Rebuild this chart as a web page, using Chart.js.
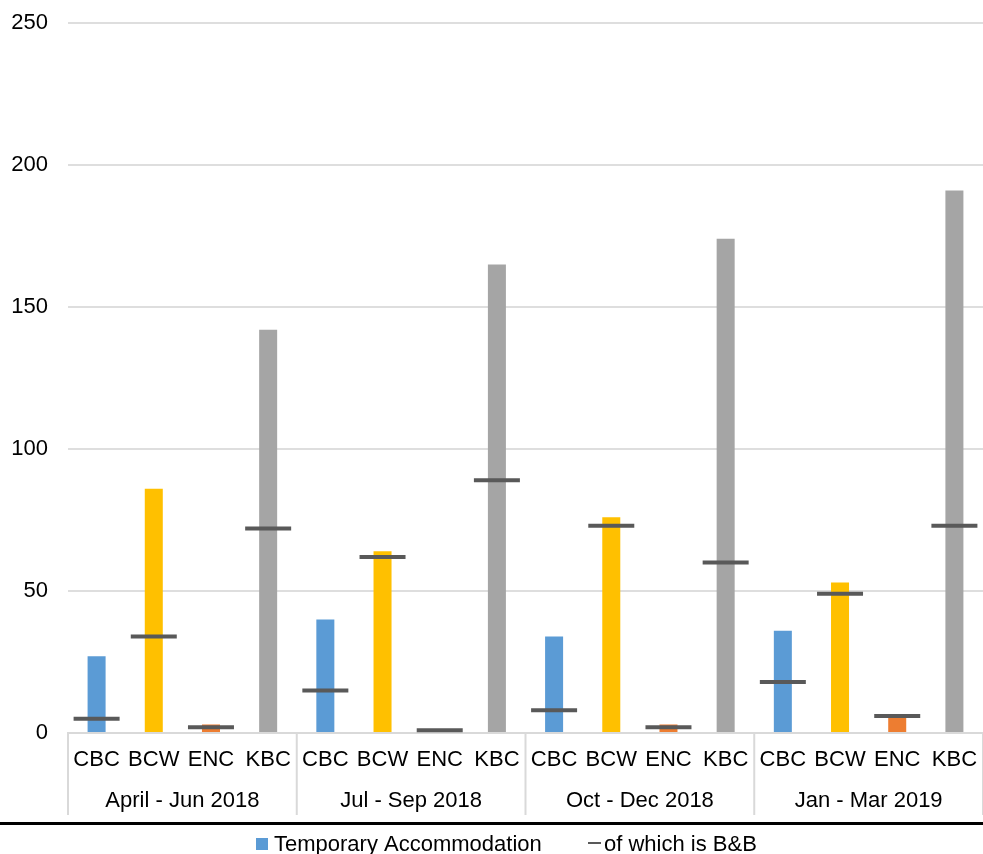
<!DOCTYPE html>
<html>
<head>
<meta charset="utf-8">
<script src="https://cdn.jsdelivr.net/npm/chart.js@4/dist/chart.umd.min.js"></script>
<style>
  html, body { margin: 0; padding: 0; background: #ffffff; }
  #wrap { width: 983px; height: 854px; position: relative; }
</style>
</head>
<body>
<div id="wrap"><canvas id="c" width="983" height="854"></canvas></div>
<script>
// ---- data ----
const councils = ['CBC', 'BCW', 'ENC', 'KBC'];
const quarters = ['April - Jun 2018', 'Jul - Sep 2018', 'Oct - Dec 2018', 'Jan - Mar 2019'];
const tempAccommodation = [27, 86, 3, 142, 40, 64, 1, 165, 34, 76, 3, 174, 36, 53, 6, 191];
const bedAndBreakfast = [5, 34, 2, 72, 15, 62, 1, 89, 8, 73, 2, 60, 18, 49, 6, 73];
const yTicks = [0, 50, 100, 150, 200, 250];
const seriesNames = ['Temporary Accommodation', 'of which is B&B'];

// ---- styles ----
const councilColors = ['#5B9BD5', '#FFC000', '#ED7D31', '#A5A5A5'];
const FONT = 'Arial, "Liberation Sans", sans-serif';

const labels = [];
quarters.forEach(() => councils.forEach(c => labels.push(c)));
const barColors = labels.map((_, i) => councilColors[i % councils.length]);

const groupPlugin = {
  id: 'groupPlugin',
  afterDraw(chart) {
    const ctx = chart.ctx;
    const x = chart.scales.x;
    const area = chart.chartArea;
    const half = (x.getPixelForValue(1) - x.getPixelForValue(0)) / 2;
    ctx.save();
    // dividers
    ctx.strokeStyle = '#d9d9d9';
    ctx.lineWidth = 2;
    for (let g = 0; g <= quarters.length; g++) {
      const bx = g < quarters.length
        ? x.getPixelForValue(g * councils.length) - half
        : x.getPixelForValue(g * councils.length - 1) + half;
      ctx.beginPath();
      ctx.moveTo(bx, area.bottom);
      ctx.lineTo(bx, 815);
      ctx.stroke();
    }
    // group labels
    ctx.fillStyle = '#000000';
    ctx.font = '22px ' + FONT;
    ctx.textAlign = 'center';
    ctx.textBaseline = 'middle';
    quarters.forEach((q, g) => {
      const a = x.getPixelForValue(g * councils.length);
      const b = x.getPixelForValue(g * councils.length + councils.length - 1);
      ctx.fillText(q, (a + b) / 2, 801);
    });
    // black separator
    ctx.strokeStyle = '#000000';
    ctx.lineWidth = 3;
    ctx.beginPath();
    ctx.moveTo(0, 823.5);
    ctx.lineTo(chart.width, 823.5);
    ctx.stroke();
    // legend
    ctx.textAlign = 'left';
    ctx.textBaseline = 'alphabetic';
    ctx.fillStyle = councilColors[0];
    ctx.fillRect(256, 838, 12, 12);
    ctx.fillStyle = '#000000';
    ctx.fillText(seriesNames[0], 274, 851);
    ctx.strokeStyle = '#595959';
    ctx.lineWidth = 2;
    ctx.beginPath();
    ctx.moveTo(588, 843);
    ctx.lineTo(601, 843);
    ctx.stroke();
    ctx.fillText(seriesNames[1], 604, 851);
    ctx.restore();
  }
};

new Chart(document.getElementById('c'), {
  type: 'bar',
  data: {
    labels: labels,
    datasets: [
      {
        type: 'bar',
        label: seriesNames[0],
        data: tempAccommodation,
        backgroundColor: barColors,
        borderWidth: 0,
        barPercentage: 0.63,
        categoryPercentage: 0.5,
        grouped: false,
        order: 1
      },
      {
        type: 'line',
        label: seriesNames[1],
        data: bedAndBreakfast,
        showLine: false,
        pointStyle: 'line',
        pointRadius: 23,
        pointHoverRadius: 23,
        pointBorderWidth: 4,
        pointBorderColor: '#595959',
        pointBackgroundColor: '#595959',
        borderColor: '#595959',
        clip: false,
        order: 0
      }
    ]
  },
  options: {
    responsive: false,
    animation: false,
    devicePixelRatio: 1,
    layout: { autoPadding: false, padding: { top: 23, right: 0, bottom: 0, left: 0 } },
    plugins: {
      legend: { display: false },
      tooltip: { enabled: false }
    },
    scales: {
      x: {
        offset: true,
        grid: { display: false, drawTicks: false },
        border: { display: true, color: '#d9d9d9', width: 2 },
        ticks: {
          color: '#000000',
          font: { family: FONT, size: 22 },
          padding: 14,
          maxRotation: 0,
          autoSkip: false
        },
        afterFit(scale) {
          scale.height = 121;
          scale.paddingLeft = 0;
          scale.paddingRight = 0;
        }
      },
      y: {
        min: 0,
        max: 250,
        afterBuildTicks(scale) { scale.ticks = yTicks.map(v => ({ value: v })); },
        grid: { color: '#dedede', lineWidth: 2, drawTicks: false },
        border: { display: false },
        ticks: {
          color: '#000000',
          font: { family: FONT, size: 22 },
          padding: 20
        },
        afterFit(scale) {
          scale.width = 68;
          scale.paddingTop = 0;
          scale.paddingBottom = 0;
        }
      }
    }
  },
  plugins: [groupPlugin]
});
</script>
</body>
</html>
